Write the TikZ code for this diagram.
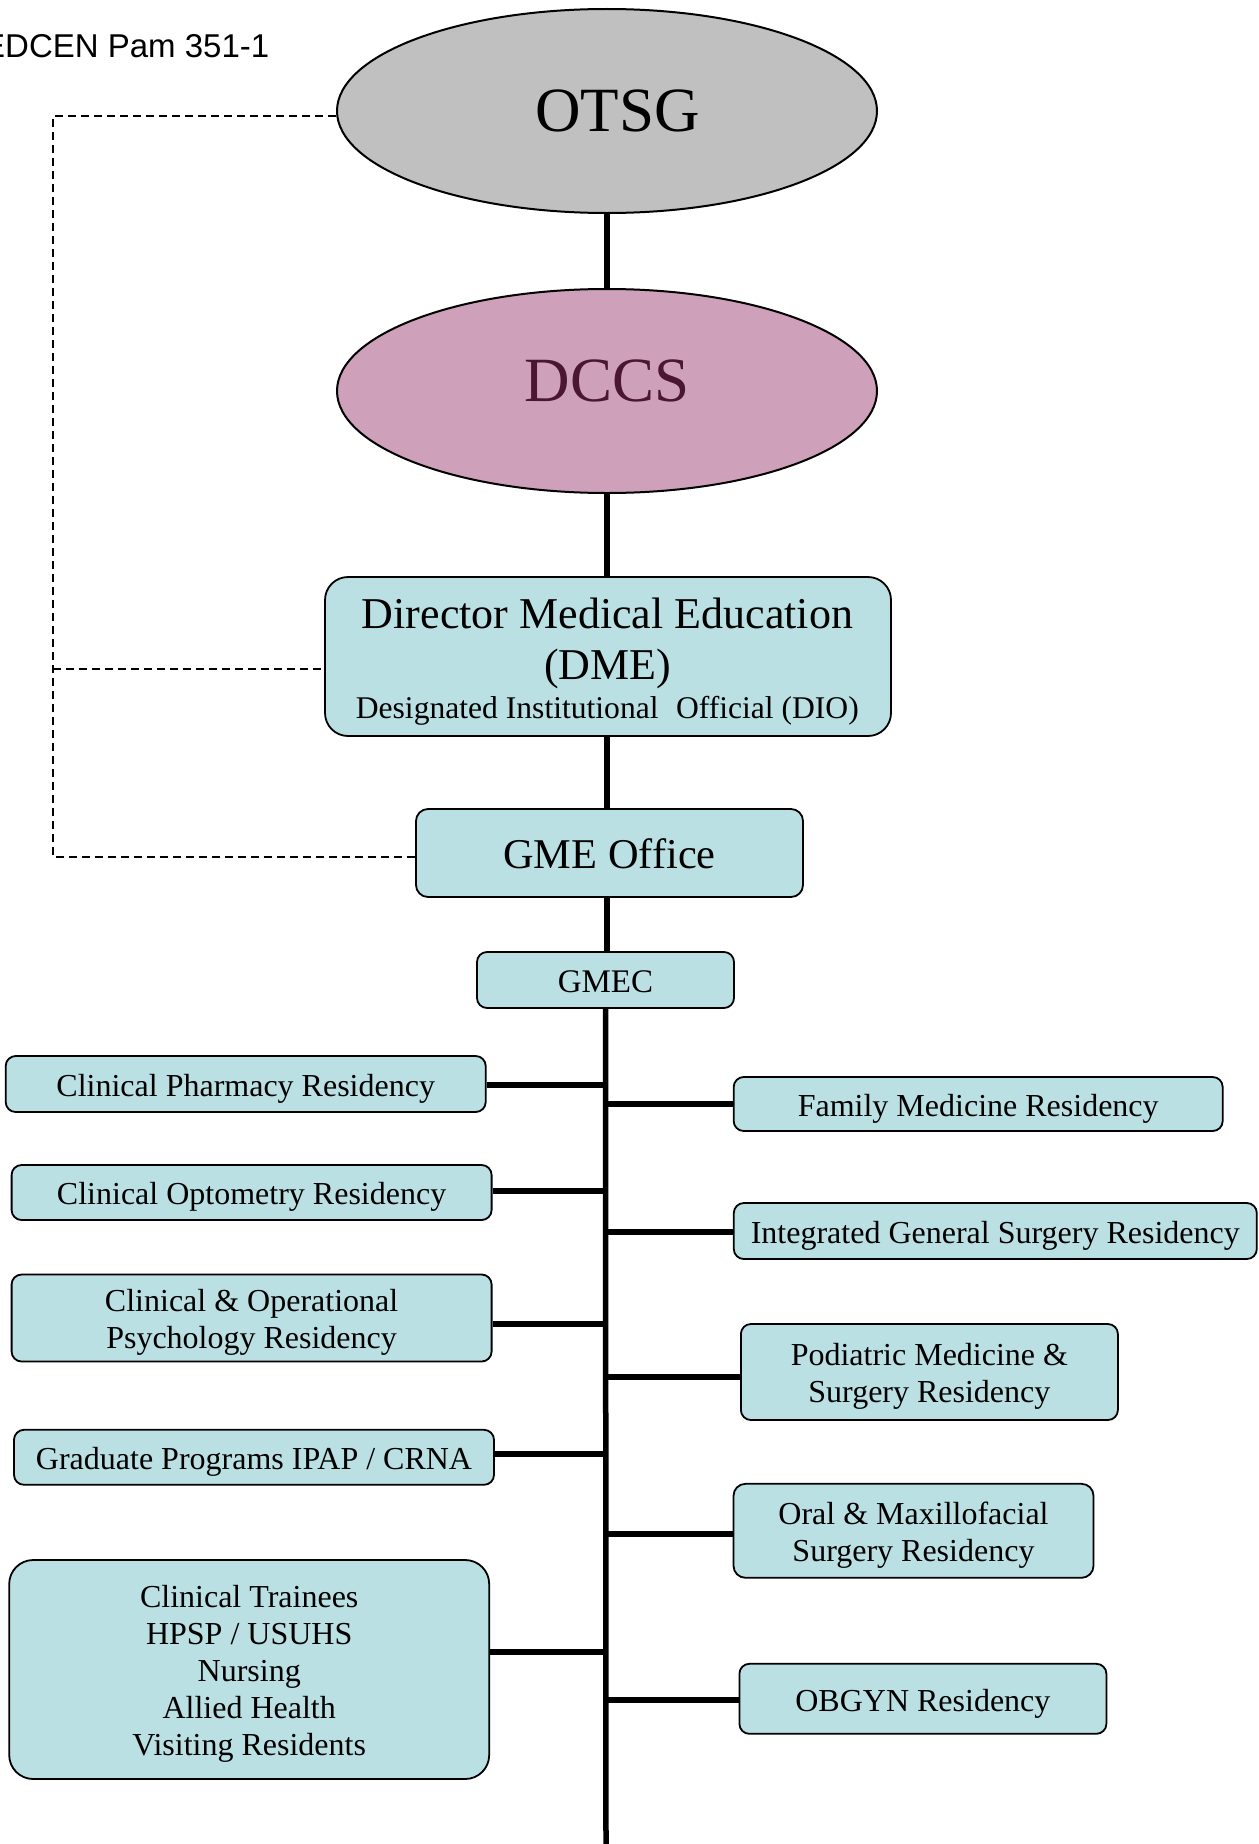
\documentclass[tikz,border=0pt]{standalone}
\usepackage{fontspec}
\setmainfont{Liberation Serif}
\newfontfamily\arialf{Liberation Sans}
\usetikzlibrary{shapes.geometric}
\definecolor{boxfill}{RGB}{186,224,227}
\definecolor{dccsfill}{RGB}{207,160,185}
\definecolor{dccstext}{RGB}{74,22,50}
\definecolor{otsgfill}{RGB}{192,192,192}
\newcommand\tsA{\rule{0pt}{32.8pt}}
\newcommand\bsA{\rule[-8pt]{0pt}{8pt}}
\begin{document}
\begin{tikzpicture}[x=1pt,y=-1pt,
  oval/.style={ellipse, draw, line width=2pt, minimum width=540pt, minimum height=204pt, inner sep=0pt, font=\fontsize{63}{70}\selectfont},
  orgbox/.style={draw, line width=1.8pt, fill=boxfill, rounded corners=10pt, inner sep=0pt, align=center, font=\fontsize{32}{37}\selectfont},
  plaintext/.style={inner sep=0pt, anchor=base},
  trunk/.style={line width=5.5pt},
  dashlink/.style={line width=1.8pt, dash pattern=on 8pt off 5pt}
]
\useasboundingbox (0,0) rectangle (1258,1844);

\node[anchor=base east, inner sep=0pt, font=\arialf\fontsize{33}{40}\selectfont] (hdr) at (269.5,58) {EDCEN Pam 351-1};

\node[oval, fill=otsgfill] (OTSG) at (607,111) {\hspace*{21pt}OTSG};
\node[oval, fill=dccsfill, text=dccstext] (DCCS) at (607,391) {\raisebox{9.7pt}[\height][\depth]{DCCS}};

\node[orgbox, rounded corners=23pt, minimum width=566pt, minimum height=159pt] (DME) at (608,656.5) {};
\node[plaintext, font=\fontsize{44}{49}\selectfont] (DMEa) at (607.5,628.3) {Director Medical Education};
\node[plaintext, font=\fontsize{44}{49}\selectfont] (DMEb) at (607.8,679.3) {(DME)};
\node[plaintext, font=\fontsize{31.6}{38}\selectfont] (DMEc) at (607.3,718.3) {Designated Institutional\hspace{0.3em} Official (DIO)};

\node[orgbox, rounded corners=12pt, minimum width=387pt, minimum height=88pt, font=\fontsize{42.4}{48}\selectfont] (GME) at (609.5,853) {\rule{0pt}{42.6pt}\rule[-11pt]{0pt}{11pt}GME Office};
\node[orgbox, minimum width=257pt, minimum height=56pt, font=\fontsize{33}{38}\selectfont] (GMEC) at (605.5,980) {\rule{0pt}{33.2pt}\rule[-8pt]{0pt}{8pt}GMEC};

% left column
\node[orgbox, minimum width=480pt, minimum height=56pt] (L1) at (245.7,1084) {\tsA\bsA Clinical Pharmacy Residency};
\node[orgbox, minimum width=480pt, minimum height=55pt] (L2) at (251.6,1192.5) {\tsA\bsA Clinical Optometry Residency};
\node[orgbox, minimum width=480pt, minimum height=87pt] (L3) at (251.6,1318) {\tsA Clinical \& Operational\\Psychology Residency\bsA};
\node[orgbox, minimum width=480pt, minimum height=55pt] (L4) at (254,1457.3) {\tsA\bsA Graduate Programs IPAP / CRNA};
\node[orgbox, rounded corners=24pt, minimum width=480pt, minimum height=219pt] (L5) at (249.2,1669.5) {\tsA Clinical Trainees\\HPSP / USUHS\\Nursing\\Allied Health\\Visiting Residents\bsA};

% right column
\node[orgbox, minimum width=489pt, minimum height=54pt] (R1) at (978.2,1104) {\tsA\bsA Family Medicine Residency};
\node[orgbox, minimum width=523pt, minimum height=56pt] (R2) at (995.3,1231) {\tsA\bsA Integrated General Surgery Residency};
\node[orgbox, minimum width=377pt, minimum height=96pt] (R3) at (929.4,1372) {\tsA Podiatric Medicine \&\\Surgery Residency\bsA};
\node[orgbox, rounded corners=12pt, minimum width=360pt, minimum height=94pt] (R4) at (913.5,1530.8) {\tsA Oral \& Maxillofacial\\Surgery Residency\bsA};
\node[orgbox, minimum width=367pt, minimum height=70pt] (R5) at (922.9,1698.8) {\tsA\bsA OBGYN Residency};

% trunk coordinates
\coordinate (bottom) at (606,1844);
\coordinate (tL1) at (606,1085);
\coordinate (tL2) at (606,1191);
\coordinate (tL3) at (606,1324);
\coordinate (tL4) at (606,1454);
\coordinate (tL5) at (606,1652);
\coordinate (tR1) at (606,1104);
\coordinate (tR2) at (606,1232);
\coordinate (tR3) at (606,1377);
\coordinate (tR4) at (606,1534);
\coordinate (tR5) at (606,1700);
\coordinate (dl) at (53,116);
\coordinate (otsgL) at ([yshift=-5pt]OTSG.west);
\coordinate (dmeL) at ([yshift=-12.5pt]DME.west);
\coordinate (gmeL) at ([yshift=-4pt]GME.west);

% vertical connectors
\draw[trunk] (OTSG.south) -- (DCCS.north);
\draw[trunk] (DCCS.south) -- (DCCS.south |- DME.north);
\draw[trunk] (DCCS.south |- DME.south) -- (DCCS.south |- GME.north);
\draw[trunk] (DCCS.south |- GME.south) -- (DCCS.south |- GMEC.north);
\draw[trunk] (GMEC.south) -- (bottom);

% branch connectors
\foreach \n in {L1,L2,L3,L4,L5}{\draw[trunk] (\n.east |- t\n) -- (t\n);}
\foreach \n in {R1,R2,R3,R4,R5}{\draw[trunk] (t\n) -- (\n.west |- t\n);}

% dashed links
\draw[dashlink] (otsgL) -- (dl) -- (dl |- gmeL) -- (gmeL);
\draw[dashlink] (dl |- dmeL) -- (dmeL);
\end{tikzpicture}
\end{document}
